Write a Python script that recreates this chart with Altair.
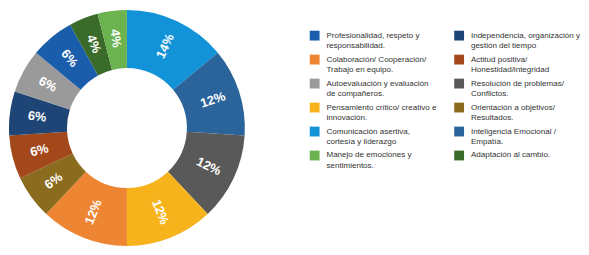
import altair as alt
import pandas as pd

categories = [
    "Comunicación asertiva,\ncortesía y liderazgo",
    "Inteligencia Emocional /\nEmpatía.",
    "Resolución de problemas/\nConflictos.",
    "Pensamiento crítico/ creativo e\ninnovación.",
    "Colaboración/ Cooperación/\nTrabajo en equipo.",
    "Orientación a objetivos/\nResultados.",
    "Actitud positiva/\nHonestidad/integridad",
    "Independencia, organización y\ngestión del tiempo",
    "Autoevaluación y evaluación\nde compañeros.",
    "Profesionalidad, respeto y\nresponsabilidad.",
    "Adaptación al cambio.",
    "Manejo de emociones y\nsentimientos.",
]
values = [14, 12, 12, 12, 12, 6, 6, 6, 6, 6, 4, 4]
colors = ["#1393d7", "#2b649b", "#595959", "#f6b31b", "#ee8532", "#8b6b1d",
          "#a2481a", "#1f4577", "#9a9a9a", "#1a5dab", "#3b6b2b", "#6cb24f"]
legend_col = [0, 1, 1, 0, 0, 1, 1, 1, 0, 0, 1, 0]
legend_row = [4, 4, 2, 3, 1, 3, 1, 0, 2, 0, 5, 5]

df = pd.DataFrame({
    "cat": categories,
    "value": values,
    "idx": list(range(len(values))),
    "col": legend_col,
    "row": legend_row,
})
df["label"] = df["value"].astype(str) + "%"

color = alt.Color("cat:N", scale=alt.Scale(domain=categories, range=colors), legend=None)
theta = alt.Theta("value:Q", stack=True)
order = alt.Order("idx:Q")

arcs = alt.Chart(df).mark_arc(innerRadius=61, outerRadius=120).encode(
    theta=theta, color=color, order=order
)

labels = alt.Chart(df).transform_joinaggregate(
    total="sum(value)"
).transform_window(
    cum="sum(value)", sort=[alt.SortField("idx")], frame=[None, 0]
).transform_calculate(
    mid="(datum.cum - datum.value/2) / datum.total * 360"
).transform_calculate(
    ang="datum.mid < 180 ? datum.mid - 90 : datum.mid - 270"
).mark_text(radius=92, color="white", fontSize=13, fontWeight="bold",
            font="Liberation Sans").encode(
    theta=theta, order=order, text="label:N",
    angle=alt.Angle("ang:Q", scale=None),
)

donut = alt.layer(arcs, labels).properties(width=242, height=240)

xs = alt.X("col:Q", scale=alt.Scale(domain=[0, 1], range=[70, 217]), axis=None)
ys = alt.Y("row:Q", scale=alt.Scale(domain=[0, 5], range=[26, 148]), axis=None)

squares = alt.Chart(df).mark_square(size=100, opacity=1).encode(
    x=xs, y=ys, color=color
)
texts = alt.Chart(df).mark_text(
    align="left", baseline="middle", dx=12, fontSize=8.2, lineHeight=10.5,
    lineBreak="\n", color="#333333", font="Liberation Sans"
).encode(x=xs, y=ys, text="cat:N")

legend = alt.layer(squares, texts).properties(width=320, height=240)

chart = alt.hconcat(donut, legend, spacing=0).properties(padding=0).configure_view(stroke=None)

chart.save("out.html", embed_options={"renderer": "svg", "actions": False})
